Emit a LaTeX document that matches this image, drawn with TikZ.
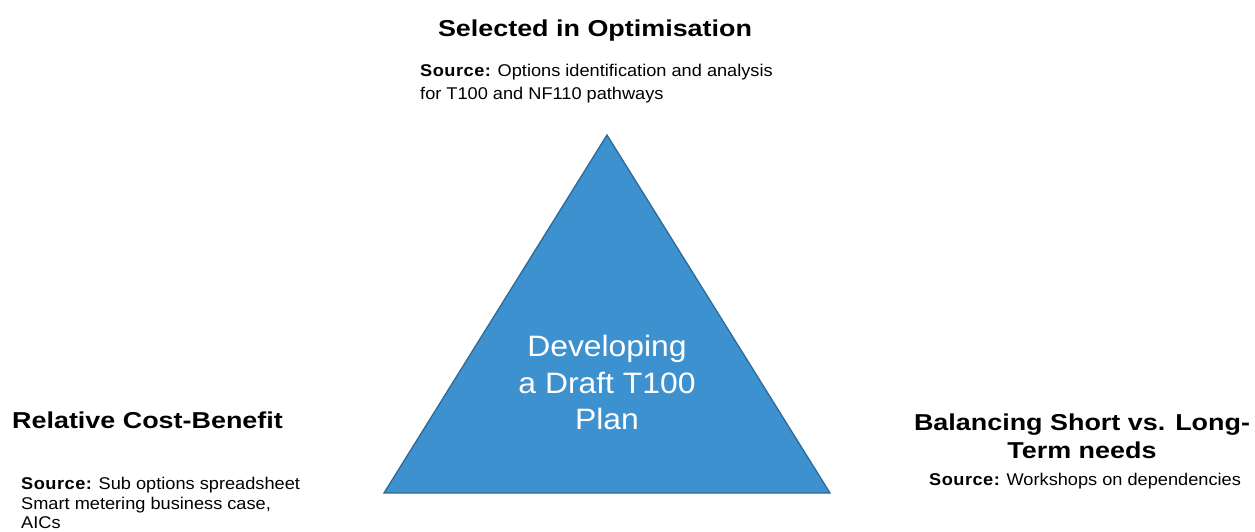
\documentclass[tikz,border=0pt]{standalone}
\usepackage{fontspec}
\setmainfont{Liberation Sans}
\newfontfamily\wfont[FakeStretch=1.17]{Liberation Sans}
\newfontfamily\sfnt[FakeStretch=1.07]{Liberation Sans}
\newfontfamily\cfont[FakeStretch=1.08]{Liberation Sans}
\newcommand{\srclabel}{{\bfseries\addfontfeature{LetterSpace=3}Source:}}
\definecolor{trifill}{HTML}{3E91CF}
\definecolor{triedge}{HTML}{2E6A98}
\begin{document}
\begin{tikzpicture}[x=1pt,y=-1pt,
  title/.style={font=\wfont\fontsize{23}{27.5}\selectfont\bfseries, inner sep=0pt, align=center},
  src/.style={font=\sfnt\fontsize{17}{23}\selectfont, inner sep=0pt},
  center/.style={font=\cfont\fontsize{29.5}{36.5}\selectfont, text=white, inner sep=0pt, align=center},
  tri/.style={fill=trifill, draw=triedge, line width=1.3pt, line join=miter}]
\useasboundingbox[fill=white] (0,0) rectangle (1255,532);
\draw[tri] (607,135) -- (830,493) -- (384,493) -- cycle;
\node[center, anchor=north] (mid) at (607,335) {Developing\\a Draft T100\\Plan};
\node[title, anchor=base] (ttop) at (595,37) {Selected in Optimisation};
\node[src, anchor=north west, align=left] (stop) at (420,64) {\srclabel{} Options identification and analysis\\for T100 and NF110 pathways};
\node[title, anchor=base west] (tleft) at (12,428) {Relative Cost-Benefit};
\node[src, anchor=north west, align=left, font=\sfnt\fontsize{17}{19.5}\selectfont] (sleft) at (21,477) {\srclabel{} Sub options spreadsheet\\Smart metering business case,\\AICs};
\node[title, anchor=north] (tright) at (1082,414) {Balancing Short vs. Long-\\Term needs};
\node[src, anchor=base] (sright) at (1085,485) {\srclabel{} Workshops on dependencies};
\end{tikzpicture}
\end{document}
